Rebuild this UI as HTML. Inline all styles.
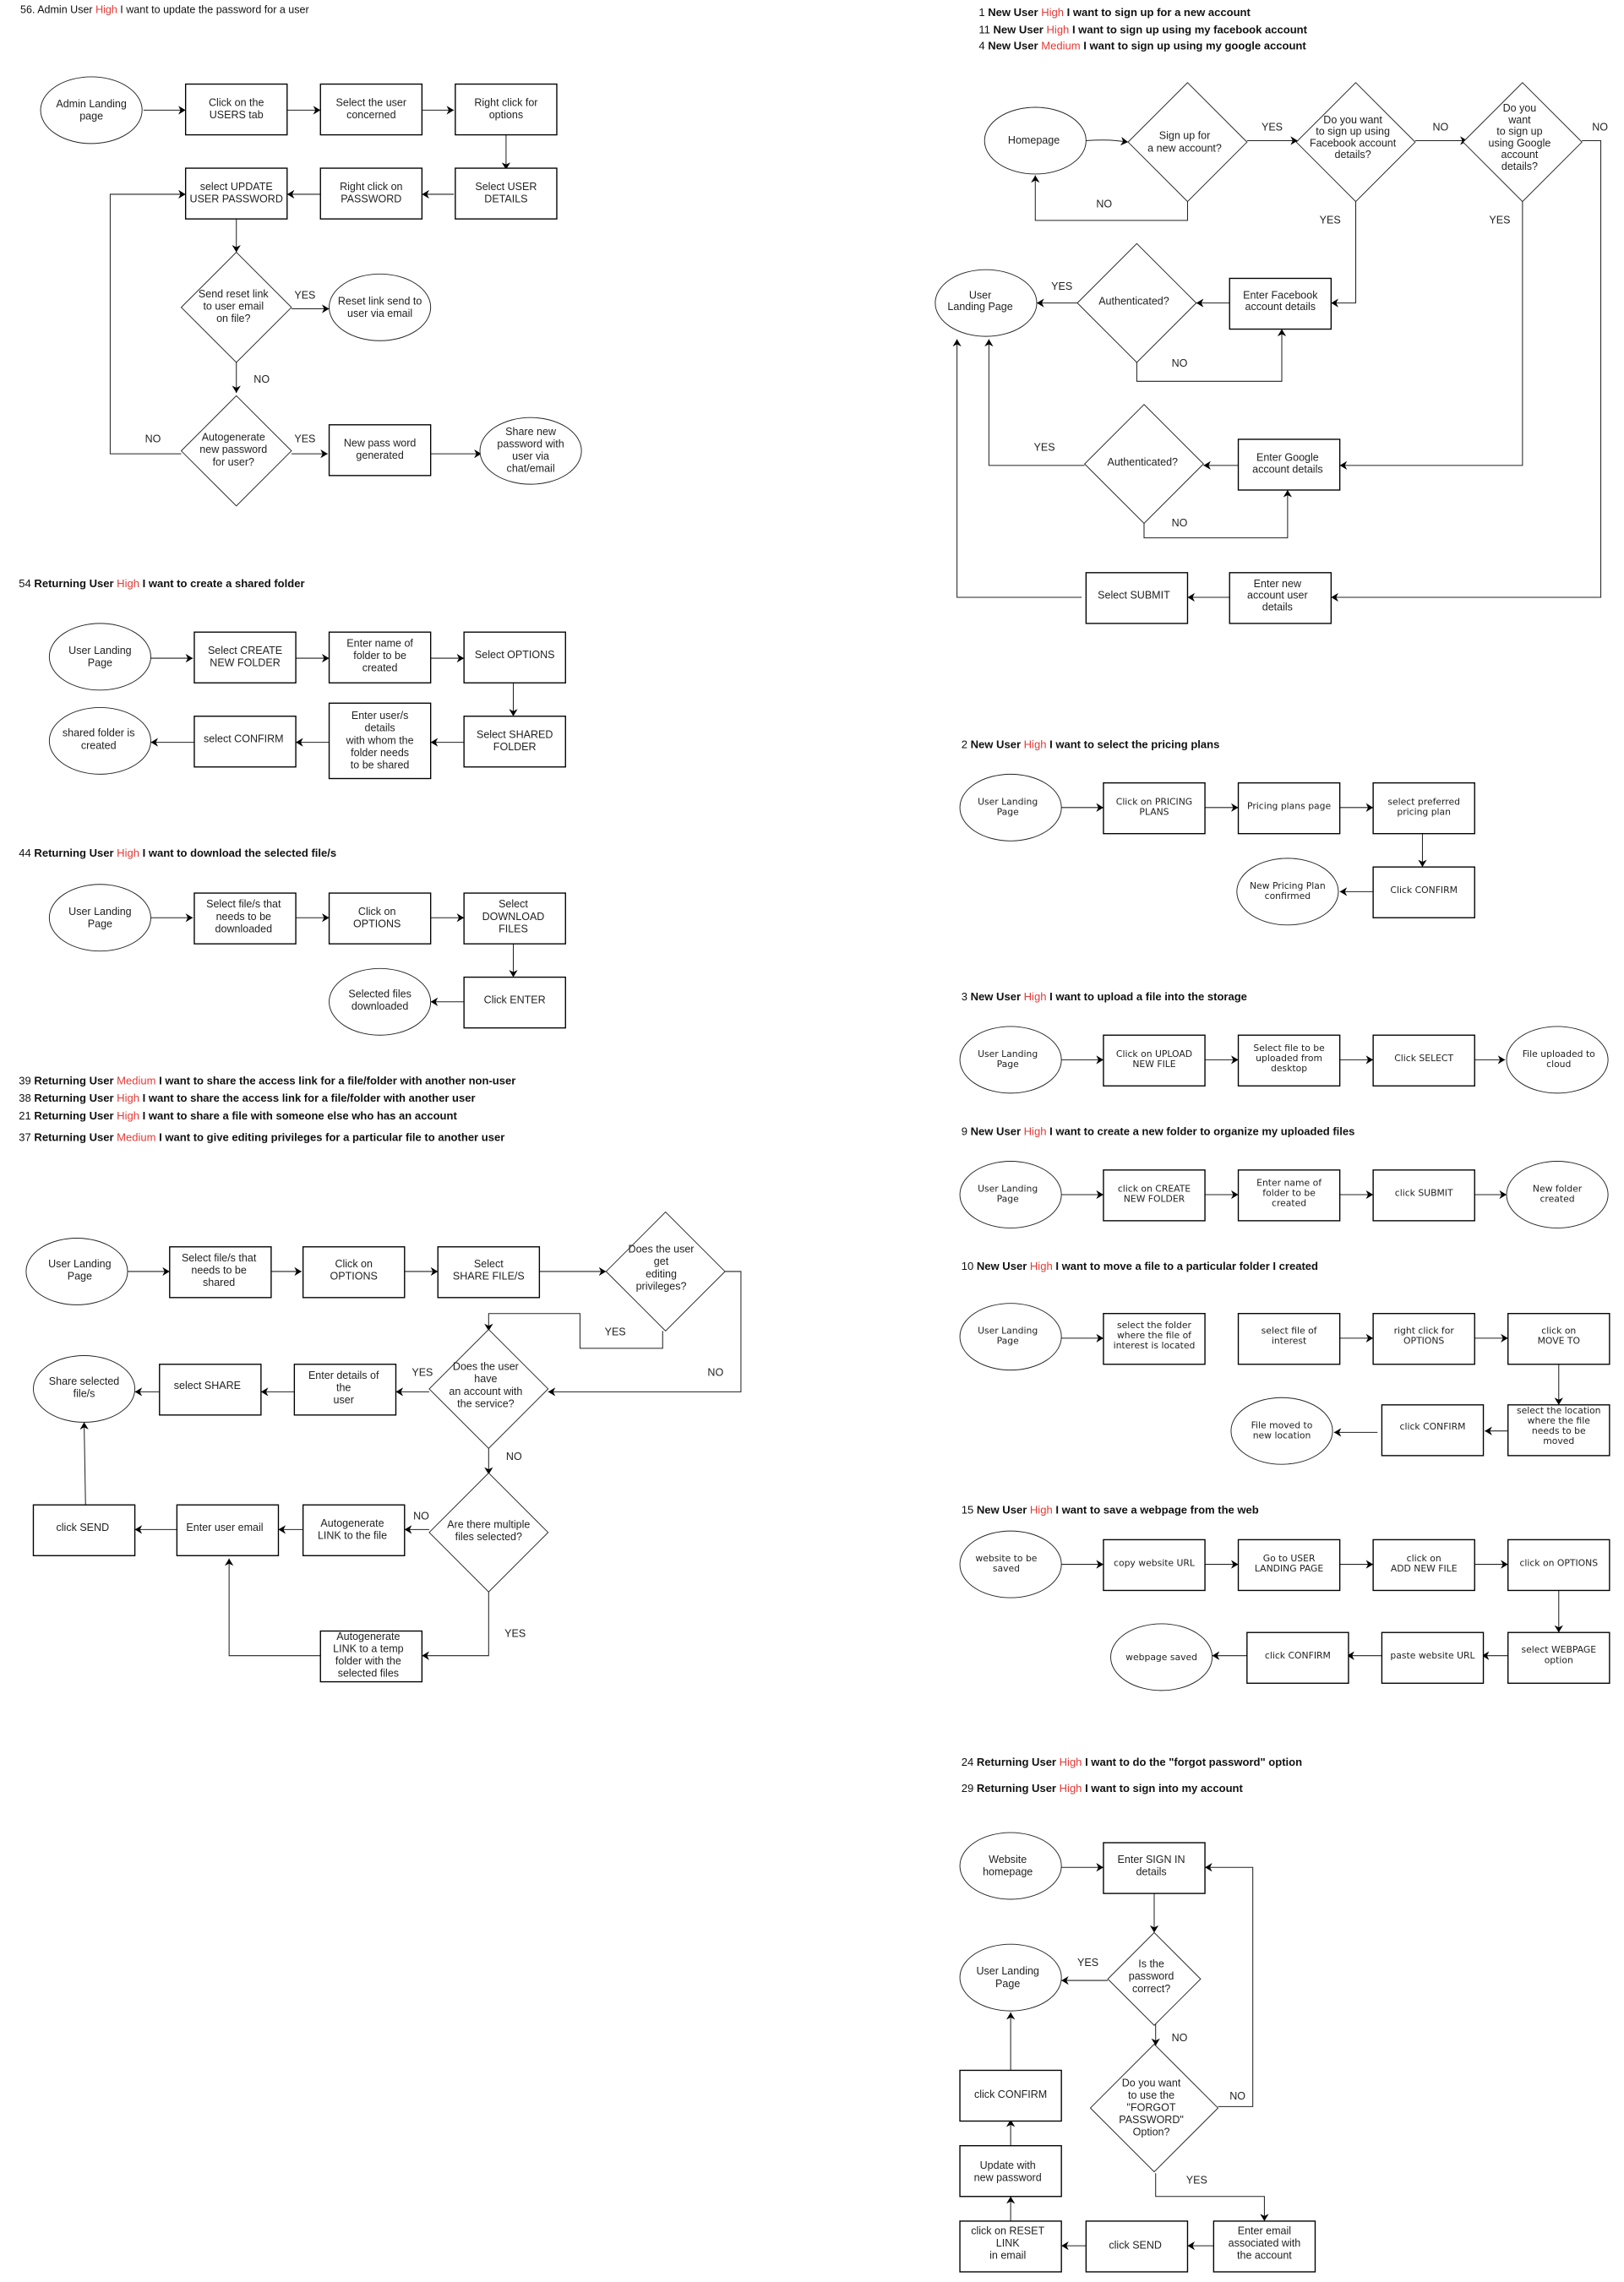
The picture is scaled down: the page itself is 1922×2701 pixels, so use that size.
<!DOCTYPE html>
<html><head><meta charset="utf-8"><style>
html,body{margin:0;padding:0;background:#fff}
svg{display:block}
text{font-family:"Liberation Sans",sans-serif;font-size:7.3px;fill:#222}
.t{text-anchor:middle}
.w{font-family:"DejaVu Sans",sans-serif;font-size:6.3px;text-anchor:middle}
.h{font-size:7.6px;font-weight:bold;fill:#111}
.h tspan.n{font-weight:normal}
.r{fill:#e53935;font-weight:normal}
rect{fill:#fff;stroke:#000;stroke-width:0.8}
ellipse,polygon{fill:#fff;stroke:#222;stroke-width:0.55}
path{fill:none;stroke:#222;stroke-width:0.6}
</style></head><body>
<svg width="1922" height="2701" viewBox="0 0 1120 1574" preserveAspectRatio="none" xmlns="http://www.w3.org/2000/svg">
<defs><marker id="a" markerUnits="userSpaceOnUse" markerWidth="6" markerHeight="6" refX="5" refY="3" orient="auto"><path d="M0,0 L5,3 L0,6 L1.5,3 Z" style="fill:#000;stroke:none"/></marker></defs>
<g marker-end="url(#a)">
<!-- S1 -->
<path d="M99,76H128"/><path d="M198,76H221"/><path d="M291,76H313"/><path d="M349,93V117"/>
<path d="M313,134H291"/><path d="M221,134H198"/><path d="M163,151V174"/><path d="M201,213H227"/>
<path d="M163,250V271"/><path d="M201,313H226"/><path d="M297,313H332"/><path d="M125,313H76V134H128"/>
<!-- S2 -->
<path d="M104,454H133"/><path d="M204,454H227"/><path d="M297,454H320"/><path d="M354,471V494"/>
<path d="M320,512H297"/><path d="M227,512H204"/><path d="M134,512H104"/>
<!-- S3 -->
<path d="M104,633H133"/><path d="M204,633H227"/><path d="M297,633H320"/><path d="M354,651V674"/><path d="M320,691H297"/>
<!-- S4 -->
<path d="M88,877H117"/><path d="M187,877H208"/><path d="M279,877H302"/><path d="M372,877H418"/>
<path d="M457,918V930H400V906H337V918"/><path d="M500,877H511V960H378"/>
<path d="M296,960H273"/><path d="M203,960H180"/><path d="M110,960H93"/>
<path d="M337,999V1017"/><path d="M296,1055H279"/><path d="M209,1055H192"/><path d="M122,1055H93"/>
<path d="M59,1038L58,981"/><path d="M337,1098V1142H291"/><path d="M221,1142H158V1075"/>
<!-- R1 -->
<path d="M749,97C765,96 770,97 778,98"/><path d="M819,139V152H714V121"/><path d="M860,97H895"/>
<path d="M976,97H1012"/><path d="M1091,97H1104V412H918"/><path d="M935,139V209H918"/><path d="M1050,139V321H924"/>
<path d="M848,209H825"/><path d="M743,209H715"/><path d="M784,250V263H884V227"/>
<path d="M854,321H830"/><path d="M748,321H682V234"/><path d="M789,361V371H888V338"/>
<path d="M848,412H819"/><path d="M746,412H660V234"/>
<!-- R2 -->
<path d="M732,557H761"/><path d="M831,557H854"/><path d="M924,557H947"/><path d="M981,575V598"/><path d="M947,615H924"/>
<!-- R3 -->
<path d="M732,731H761"/><path d="M831,731H854"/><path d="M924,731H947"/><path d="M1017,731H1038"/>
<!-- R9 -->
<path d="M732,824H761"/><path d="M831,824H854"/><path d="M924,824H947"/><path d="M1017,824H1039"/>
<!-- R10 -->
<path d="M732,923H761"/><path d="M924,923H947"/><path d="M1017,923H1040"/><path d="M1075,941V969"/>
<path d="M1040,987H1024"/><path d="M950,988H920"/>
<!-- R15 -->
<path d="M732,1079H761"/><path d="M831,1079H854"/><path d="M924,1079H947"/><path d="M1017,1079H1040"/>
<path d="M1075,1097V1126"/><path d="M1040,1142H1022"/><path d="M953,1142H929"/><path d="M860,1142H836"/>
<!-- R24 -->
<path d="M732,1288H761"/><path d="M796,1306V1333"/><path d="M764,1366H732"/><path d="M797,1396V1411"/>
<path d="M840,1453H864V1288H831"/><path d="M797,1499V1515H872V1532"/>
<path d="M837,1549H819"/><path d="M749,1549H732"/><path d="M697,1532V1515"/><path d="M697,1480V1462"/><path d="M697,1428V1388"/>
</g>

<!-- shapes -->
<ellipse cx="63" cy="76" rx="35" ry="23"/>
<rect x="128" y="58" width="70" height="35"/><rect x="221" y="58" width="70" height="35"/><rect x="314" y="58" width="70" height="35"/>
<rect x="128" y="116" width="70" height="35"/><rect x="221" y="116" width="70" height="35"/><rect x="314" y="116" width="70" height="35"/>
<polygon points="163,174 201,212 163,250 125,212"/><ellipse cx="262" cy="212" rx="35" ry="23"/>
<polygon points="163,273 201,311 163,349 125,311"/><rect x="227" y="293" width="70" height="35"/><ellipse cx="366" cy="311" rx="35" ry="23"/>

<ellipse cx="69" cy="453" rx="35" ry="23"/><rect x="134" y="436" width="70" height="35"/><rect x="227" y="436" width="70" height="35"/><rect x="320" y="436" width="70" height="35"/>
<ellipse cx="69" cy="511" rx="35" ry="23"/><rect x="134" y="494" width="70" height="35"/><rect x="227" y="485" width="70" height="52"/><rect x="320" y="494" width="70" height="35"/>

<ellipse cx="69" cy="633" rx="35" ry="23"/><rect x="134" y="616" width="70" height="35"/><rect x="227" y="616" width="70" height="35"/><rect x="320" y="616" width="70" height="35"/>
<rect x="320" y="674" width="70" height="35"/><ellipse cx="262" cy="691" rx="35" ry="23"/>

<ellipse cx="53" cy="877" rx="35" ry="23"/><rect x="117" y="860" width="70" height="35"/><rect x="209" y="860" width="70" height="35"/><rect x="302" y="860" width="70" height="35"/>
<polygon points="459,836 500,877 459,918 418,877"/>
<polygon points="337,917 378,958 337,999 296,958"/><rect x="203" y="941" width="70" height="35"/><rect x="110" y="941" width="70" height="35"/><ellipse cx="58" cy="958" rx="35" ry="23"/>
<polygon points="337,1016 378,1057 337,1098 296,1057"/><rect x="209" y="1038" width="70" height="35"/><rect x="122" y="1038" width="70" height="35"/><rect x="23" y="1038" width="70" height="35"/>
<rect x="221" y="1125" width="70" height="35"/>

<ellipse cx="714" cy="97" rx="35" ry="23"/>
<polygon points="819,57 860,98 819,139 778,98"/><polygon points="935,57 976,98 935,139 894,98"/><polygon points="1050,57 1091,98 1050,139 1009,98"/>
<rect x="848" y="192" width="70" height="35"/><polygon points="784,168 825,209 784,250 743,209"/><ellipse cx="680" cy="209" rx="35" ry="23"/>
<rect x="854" y="303" width="70" height="35"/><polygon points="789,279 830,320 789,361 748,320"/>
<rect x="848" y="395" width="70" height="35"/><rect x="749" y="395" width="70" height="35"/>

<ellipse cx="697" cy="557" rx="35" ry="23"/><rect x="761" y="540" width="70" height="35"/><rect x="854" y="540" width="70" height="35"/><rect x="947" y="540" width="70" height="35"/>
<rect x="947" y="598" width="70" height="35"/><ellipse cx="888" cy="615" rx="35" ry="23"/>

<ellipse cx="697" cy="731" rx="35" ry="23"/><rect x="761" y="714" width="70" height="35"/><rect x="854" y="714" width="70" height="35"/><rect x="947" y="714" width="70" height="35"/><ellipse cx="1074" cy="731" rx="35" ry="23"/>

<ellipse cx="697" cy="824" rx="35" ry="23"/><rect x="761" y="807" width="70" height="35"/><rect x="854" y="807" width="70" height="35"/><rect x="947" y="807" width="70" height="35"/><ellipse cx="1074" cy="824" rx="35" ry="23"/>

<ellipse cx="697" cy="922" rx="35" ry="23"/><rect x="761" y="906" width="70" height="35"/><rect x="854" y="906" width="70" height="35"/><rect x="947" y="906" width="70" height="35"/><rect x="1040" y="906" width="70" height="35"/>
<rect x="1040" y="969" width="70" height="35"/><rect x="953" y="969" width="70" height="35"/><ellipse cx="884" cy="987" rx="35" ry="23"/>

<ellipse cx="697" cy="1079" rx="35" ry="23"/><rect x="761" y="1062" width="70" height="35"/><rect x="854" y="1062" width="70" height="35"/><rect x="947" y="1062" width="70" height="35"/><rect x="1040" y="1062" width="70" height="35"/>
<rect x="1040" y="1126" width="70" height="35"/><rect x="953" y="1126" width="70" height="35"/><rect x="860" y="1126" width="70" height="35"/><ellipse cx="801" cy="1143" rx="35" ry="23"/>

<ellipse cx="697" cy="1287" rx="35" ry="23"/><rect x="761" y="1271" width="70" height="35"/>
<polygon points="796,1333 828,1365 796,1397 764,1365"/><ellipse cx="697" cy="1364" rx="35" ry="23"/>
<polygon points="796,1410 840,1454 796,1498 752,1454"/>
<rect x="662" y="1428" width="70" height="35"/><rect x="662" y="1480" width="70" height="35"/><rect x="662" y="1532" width="70" height="35"/><rect x="749" y="1532" width="70" height="35"/><rect x="837" y="1532" width="70" height="35"/>

<!-- titles -->
<text x="14" y="9" style="font-size:7.3px;fill:#111">56. Admin User <tspan class="r">High</tspan> I want to update the password for a user</text>
<text class="h" x="13" y="405"><tspan class="n">54 </tspan>Returning User <tspan class="r">High</tspan> I want to create a shared folder</text>
<text class="h" x="13" y="591"><tspan class="n">44 </tspan>Returning User <tspan class="r">High</tspan> I want to download the selected file/s</text>
<text class="h" x="13" y="748"><tspan class="n">39 </tspan>Returning User <tspan class="r">Medium</tspan> I want to share the access link for a file/folder with another non-user</text>
<text class="h" x="13" y="760"><tspan class="n">38 </tspan>Returning User <tspan class="r">High</tspan> I want to share the access link for a file/folder with another user</text>
<text class="h" x="13" y="772"><tspan class="n">21 </tspan>Returning User <tspan class="r">High</tspan> I want to share a file with someone else who has an account</text>
<text class="h" x="13" y="787"><tspan class="n">37 </tspan>Returning User <tspan class="r">Medium</tspan> I want to give editing privileges for a particular file to another user</text>
<text class="h" x="675" y="11"><tspan class="n">1 </tspan>New User <tspan class="r">High</tspan> I want to sign up for a new account</text>
<text class="h" x="675" y="23"><tspan class="n">11 </tspan>New User <tspan class="r">High</tspan> I want to sign up using my facebook account</text>
<text class="h" x="675" y="34"><tspan class="n">4 </tspan>New User <tspan class="r">Medium</tspan>  I want to sign up using my google account</text>
<text class="h" x="663" y="516"><tspan class="n">2 </tspan>New User <tspan class="r">High</tspan> I want to select the pricing plans</text>
<text class="h" x="663" y="690"><tspan class="n">3 </tspan>New User <tspan class="r">High</tspan> I want to upload a file into the storage</text>
<text class="h" x="663" y="783"><tspan class="n">9 </tspan>New User <tspan class="r">High</tspan> I want to create a new folder to organize my uploaded files</text>
<text class="h" x="663" y="876"><tspan class="n">10 </tspan>New User <tspan class="r">High</tspan> I want to move a file to a particular folder I created</text>
<text class="h" x="663" y="1044"><tspan class="n">15 </tspan>New User <tspan class="r">High</tspan> I want to save a webpage from the web</text>
<text class="h" x="663" y="1218"><tspan class="n">24 </tspan>Returning User <tspan class="r">High</tspan> I want to do the "forgot password" option</text>
<text class="h" x="663" y="1236"><tspan class="n">29 </tspan>Returning User <tspan class="r">High</tspan> I want to sign into my account</text>

<!-- S1 text -->
<text class="t" x="63" y="74"><tspan x="63">Admin Landing</tspan><tspan x="63" dy="8.5">page</tspan></text>
<text class="t" x="163" y="73"><tspan x="163">Click on the</tspan><tspan x="163" dy="8.5">USERS tab</tspan></text>
<text class="t" x="256" y="73"><tspan x="256">Select the user</tspan><tspan x="256" dy="8.5">concerned</tspan></text>
<text class="t" x="349" y="73"><tspan x="349">Right click for</tspan><tspan x="349" dy="8.5">options</tspan></text>
<text class="t" x="163" y="131"><tspan x="163">select UPDATE</tspan><tspan x="163" dy="8.5">USER PASSWORD</tspan></text>
<text class="t" x="256" y="131"><tspan x="256">Right click on</tspan><tspan x="256" dy="8.5">PASSWORD</tspan></text>
<text class="t" x="349" y="131"><tspan x="349">Select USER</tspan><tspan x="349" dy="8.5">DETAILS</tspan></text>
<text class="t" x="161" y="205"><tspan x="161">Send reset link</tspan><tspan x="161" dy="8.5">to user email</tspan><tspan x="161" dy="8.5">on file?</tspan></text>
<text class="t" x="262" y="210"><tspan x="262">Reset link send to</tspan><tspan x="262" dy="8.5">user via email</tspan></text>
<text class="t" x="161" y="304"><tspan x="161">Autogenerate</tspan><tspan x="161" dy="8.5">new password</tspan><tspan x="161" dy="8.5">for user?</tspan></text>
<text class="t" x="262" y="308"><tspan x="262">New pass word</tspan><tspan x="262" dy="8.5">generated</tspan></text>
<text class="t" x="366" y="300"><tspan x="366">Share new</tspan><tspan x="366" dy="8.5">password with</tspan><tspan x="366" dy="8.5">user via</tspan><tspan x="366" dy="8.5">chat/email</tspan></text>
<text x="203" y="206">YES</text><text x="175" y="264">NO</text><text x="203" y="305">YES</text><text x="100" y="305">NO</text>

<!-- S2 text -->
<text class="t" x="69" y="451"><tspan x="69">User Landing</tspan><tspan x="69" dy="8.5">Page</tspan></text>
<text class="t" x="169" y="451"><tspan x="169">Select CREATE</tspan><tspan x="169" dy="8.5">NEW FOLDER</tspan></text>
<text class="t" x="262" y="446"><tspan x="262">Enter name of</tspan><tspan x="262" dy="8.5">folder to be</tspan><tspan x="262" dy="8.5">created</tspan></text>
<text class="t" x="355" y="454">Select OPTIONS</text>
<text class="t" x="355" y="509"><tspan x="355">Select SHARED</tspan><tspan x="355" dy="8.5">FOLDER</tspan></text>
<text class="t" x="262" y="496"><tspan x="262">Enter user/s</tspan><tspan x="262" dy="8.5">details</tspan><tspan x="262" dy="8.5">with whom the</tspan><tspan x="262" dy="8.5">folder needs</tspan><tspan x="262" dy="8.5">to be shared</tspan></text>
<text class="t" x="168" y="512">select CONFIRM</text>
<text class="t" x="68" y="508"><tspan x="68">shared folder is</tspan><tspan x="68" dy="8.5">created</tspan></text>

<!-- S3 text -->
<text class="t" x="69" y="631"><tspan x="69">User Landing</tspan><tspan x="69" dy="8.5">Page</tspan></text>
<text class="t" x="168" y="626"><tspan x="168">Select file/s that</tspan><tspan x="168" dy="8.5">needs to be</tspan><tspan x="168" dy="8.5">downloaded</tspan></text>
<text class="t" x="260" y="631"><tspan x="260">Click on</tspan><tspan x="260" dy="8.5">OPTIONS</tspan></text>
<text class="t" x="354" y="626"><tspan x="354">Select</tspan><tspan x="354" dy="8.5">DOWNLOAD</tspan><tspan x="354" dy="8.5">FILES</tspan></text>
<text class="t" x="355" y="692">Click ENTER</text>
<text class="t" x="262" y="688"><tspan x="262">Selected files</tspan><tspan x="262" dy="8.5">downloaded</tspan></text>

<!-- S4 text -->
<text class="t" x="55" y="874"><tspan x="55">User Landing</tspan><tspan x="55" dy="8.5">Page</tspan></text>
<text class="t" x="151" y="870"><tspan x="151">Select file/s that</tspan><tspan x="151" dy="8.5">needs to be</tspan><tspan x="151" dy="8.5">shared</tspan></text>
<text class="t" x="244" y="874"><tspan x="244">Click on</tspan><tspan x="244" dy="8.5">OPTIONS</tspan></text>
<text class="t" x="337" y="874"><tspan x="337">Select</tspan><tspan x="337" dy="8.5">SHARE FILE/S</tspan></text>
<text class="t" x="456" y="864"><tspan x="456">Does the user</tspan><tspan x="456" dy="8.5">get</tspan><tspan x="456" dy="8.5">editing</tspan><tspan x="456" dy="8.5">privileges?</tspan></text>
<text class="t" x="335" y="945"><tspan x="335">Does the user</tspan><tspan x="335" dy="8.5">have</tspan><tspan x="335" dy="8.5">an account with</tspan><tspan x="335" dy="8.5">the service?</tspan></text>
<text class="t" x="237" y="951"><tspan x="237">Enter details of</tspan><tspan x="237" dy="8.5">the</tspan><tspan x="237" dy="8.5">user</tspan></text>
<text class="t" x="143" y="958">select SHARE</text>
<text class="t" x="58" y="955"><tspan x="58">Share selected</tspan><tspan x="58" dy="8.5">file/s</tspan></text>
<text class="t" x="337" y="1054"><tspan x="337">Are there multiple</tspan><tspan x="337" dy="8.5">files selected?</tspan></text>
<text class="t" x="243" y="1053"><tspan x="243">Autogenerate</tspan><tspan x="243" dy="8.5">LINK to the file</tspan></text>
<text class="t" x="155" y="1056">Enter user email</text>
<text class="t" x="57" y="1056">click SEND</text>
<text class="t" x="254" y="1131"><tspan x="254">Autogenerate</tspan><tspan x="254" dy="8.5">LINK to a temp</tspan><tspan x="254" dy="8.5">folder with the</tspan><tspan x="254" dy="8.5">selected files</tspan></text>
<text x="417" y="921">YES</text><text x="488" y="949">NO</text><text x="284" y="949">YES</text><text x="349" y="1007">NO</text><text x="285" y="1048">NO</text><text x="348" y="1129">YES</text>

<!-- R1 text -->
<text class="t" x="713" y="99">Homepage</text>
<text class="t" x="817" y="96"><tspan x="817">Sign up for</tspan><tspan x="817" dy="8.5">a new account?</tspan></text>
<text class="t" x="933" y="85"><tspan x="933">Do you want</tspan><tspan x="933" dy="8">to sign up using</tspan><tspan x="933" dy="8">Facebook account</tspan><tspan x="933" dy="8">details?</tspan></text>
<text class="t" x="1048" y="77"><tspan x="1048">Do you</tspan><tspan x="1048" dy="8">want</tspan><tspan x="1048" dy="8">to sign up</tspan><tspan x="1048" dy="8">using Google</tspan><tspan x="1048" dy="8">account</tspan><tspan x="1048" dy="8">details?</tspan></text>
<text x="870" y="90">YES</text><text x="988" y="90">NO</text><text x="1098" y="90">NO</text>
<text x="756" y="143">NO</text><text x="910" y="154">YES</text><text x="1027" y="154">YES</text>
<text class="t" x="676" y="206"><tspan x="676">User</tspan><tspan x="676" dy="8">Landing Page</tspan></text>
<text class="t" x="782" y="210">Authenticated?</text>
<text class="t" x="883" y="206"><tspan x="883">Enter Facebook</tspan><tspan x="883" dy="8">account details</tspan></text>
<text x="725" y="200">YES</text><text x="808" y="253">NO</text>
<text class="t" x="788" y="321">Authenticated?</text>
<text class="t" x="888" y="318"><tspan x="888">Enter Google</tspan><tspan x="888" dy="8">account details</tspan></text>
<text x="713" y="311">YES</text><text x="808" y="363">NO</text>
<text class="t" x="782" y="413">Select SUBMIT</text>
<text class="t" x="881" y="405"><tspan x="881">Enter new</tspan><tspan x="881" dy="8">account user</tspan><tspan x="881" dy="8">details</tspan></text>

<!-- R2..R15 text -->
<g class="wg">
<text class="w" x="695" y="555"><tspan x="695">User Landing</tspan><tspan x="695" dy="7">Page</tspan></text>
<text class="w" x="796" y="555"><tspan x="796">Click on PRICING</tspan><tspan x="796" dy="7">PLANS</tspan></text>
<text class="w" x="889" y="558">Pricing plans page</text>
<text class="w" x="982" y="555"><tspan x="982">select preferred</tspan><tspan x="982" dy="7">pricing plan</tspan></text>
<text class="w" x="982" y="616">Click CONFIRM</text>
<text class="w" x="888" y="613"><tspan x="888">New Pricing Plan</tspan><tspan x="888" dy="7">confirmed</tspan></text>

<text class="w" x="695" y="729"><tspan x="695">User Landing</tspan><tspan x="695" dy="7">Page</tspan></text>
<text class="w" x="796" y="729"><tspan x="796">Click on UPLOAD</tspan><tspan x="796" dy="7">NEW FILE</tspan></text>
<text class="w" x="889" y="725"><tspan x="889">Select file to be</tspan><tspan x="889" dy="7">uploaded from</tspan><tspan x="889" dy="7">desktop</tspan></text>
<text class="w" x="982" y="732">Click SELECT</text>
<text class="w" x="1075" y="729"><tspan x="1075">File uploaded to</tspan><tspan x="1075" dy="7">cloud</tspan></text>

<text class="w" x="695" y="822"><tspan x="695">User Landing</tspan><tspan x="695" dy="7">Page</tspan></text>
<text class="w" x="796" y="822"><tspan x="796">click on CREATE</tspan><tspan x="796" dy="7">NEW FOLDER</tspan></text>
<text class="w" x="889" y="818"><tspan x="889">Enter name of</tspan><tspan x="889" dy="7">folder to be</tspan><tspan x="889" dy="7">created</tspan></text>
<text class="w" x="982" y="825">click SUBMIT</text>
<text class="w" x="1074" y="822"><tspan x="1074">New folder</tspan><tspan x="1074" dy="7">created</tspan></text>

<text class="w" x="695" y="920"><tspan x="695">User Landing</tspan><tspan x="695" dy="7">Page</tspan></text>
<text class="w" x="796" y="916"><tspan x="796">select the folder</tspan><tspan x="796" dy="7">where the file of</tspan><tspan x="796" dy="7">interest is located</tspan></text>
<text class="w" x="889" y="920"><tspan x="889">select file of</tspan><tspan x="889" dy="7">interest</tspan></text>
<text class="w" x="982" y="920"><tspan x="982">right click for</tspan><tspan x="982" dy="7">OPTIONS</tspan></text>
<text class="w" x="1075" y="920"><tspan x="1075">click on</tspan><tspan x="1075" dy="7">MOVE TO</tspan></text>
<text class="w" x="1075" y="975"><tspan x="1075">select the location</tspan><tspan x="1075" dy="7">where the file</tspan><tspan x="1075" dy="7">needs to be</tspan><tspan x="1075" dy="7">moved</tspan></text>
<text class="w" x="988" y="986">click CONFIRM</text>
<text class="w" x="884" y="985"><tspan x="884">File moved to</tspan><tspan x="884" dy="7">new location</tspan></text>

<text class="w" x="694" y="1077"><tspan x="694">website to be</tspan><tspan x="694" dy="7">saved</tspan></text>
<text class="w" x="796" y="1080">copy website URL</text>
<text class="w" x="889" y="1077"><tspan x="889">Go to USER</tspan><tspan x="889" dy="7">LANDING PAGE</tspan></text>
<text class="w" x="982" y="1077"><tspan x="982">click on</tspan><tspan x="982" dy="7">ADD NEW FILE</tspan></text>
<text class="w" x="1075" y="1080">click on OPTIONS</text>
<text class="w" x="1075" y="1140"><tspan x="1075">select WEBPAGE</tspan><tspan x="1075" dy="7">option</tspan></text>
<text class="w" x="988" y="1144">paste website URL</text>
<text class="w" x="895" y="1144">click CONFIRM</text>
<text class="w" x="801" y="1145">webpage saved</text>
</g>

<!-- R24 text -->
<text class="t" x="695" y="1285"><tspan x="695">Website</tspan><tspan x="695" dy="8.5">homepage</tspan></text>
<text class="t" x="794" y="1285"><tspan x="794">Enter SIGN IN</tspan><tspan x="794" dy="8.5">details</tspan></text>
<text class="t" x="695" y="1362"><tspan x="695">User Landing</tspan><tspan x="695" dy="8.5">Page</tspan></text>
<text class="t" x="794" y="1357"><tspan x="794">Is the</tspan><tspan x="794" dy="8.5">password</tspan><tspan x="794" dy="8.5">correct?</tspan></text>
<text class="t" x="794" y="1439"><tspan x="794">Do you want</tspan><tspan x="794" dy="8.5">to use the</tspan><tspan x="794" dy="8.5">"FORGOT</tspan><tspan x="794" dy="8.5">PASSWORD"</tspan><tspan x="794" dy="8.5">Option?</tspan></text>
<text x="743" y="1356">YES</text><text x="808" y="1408">NO</text><text x="848" y="1448">NO</text><text x="818" y="1506">YES</text>
<text class="t" x="697" y="1447">click CONFIRM</text>
<text class="t" x="695" y="1496"><tspan x="695">Update with</tspan><tspan x="695" dy="8.5">new password</tspan></text>
<text class="t" x="695" y="1541"><tspan x="695">click on RESET</tspan><tspan x="695" dy="8.5">LINK</tspan><tspan x="695" dy="8.5">in email</tspan></text>
<text class="t" x="783" y="1551">click SEND</text>
<text class="t" x="872" y="1541"><tspan x="872">Enter email</tspan><tspan x="872" dy="8.5">associated with</tspan><tspan x="872" dy="8.5">the account</tspan></text>
</svg>
</body></html>
